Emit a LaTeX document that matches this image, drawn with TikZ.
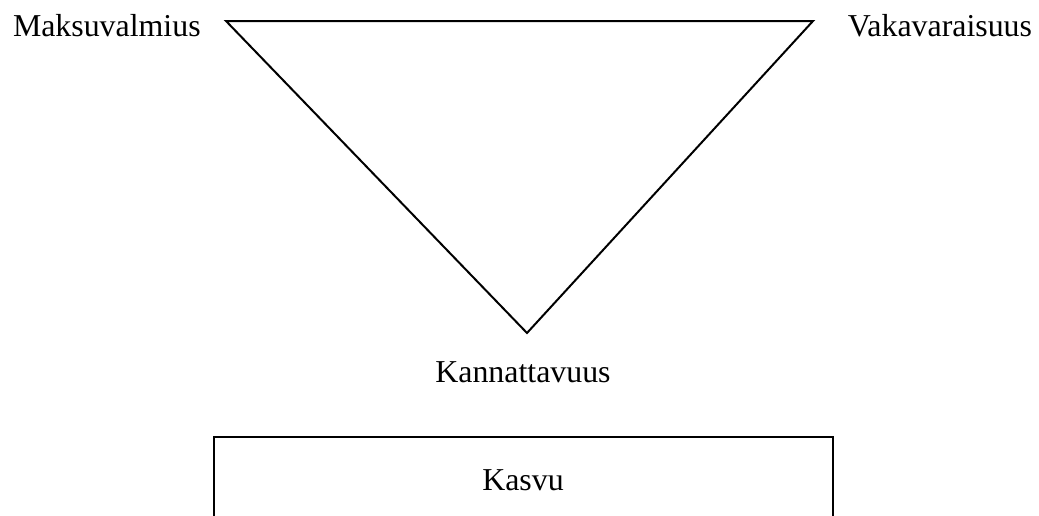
\documentclass[tikz,border=0pt]{standalone}
\usepackage{fontspec}
\setmainfont{Liberation Serif}
\begin{document}
\begin{tikzpicture}[x=0.75pt,y=-0.75pt,
  lbl/.style={inner sep=0pt,outer sep=0pt,font=\fontsize{23.9}{28}\selectfont},
  tri/.style={line width=1.5pt,line join=miter},
  boxline/.style={line width=2.2pt,line join=miter}]
\useasboundingbox (0,0) rectangle (1039,515);
\clip (0,0) rectangle (1039,515);
% labels
\node[lbl,anchor=base west] (maks) at (13,36) {Maksuvalmius};
\node[lbl,anchor=base east] (vaka) at (1032,36) {Vakavaraisuus};
\node[lbl,anchor=base] (kann) at (523,382) {Kannattavuus};
\node[lbl,anchor=base] (kasvu) at (523,490) {Kasvu};
% triangle
\coordinate (tl) at (226,21);
\coordinate (tr) at (813,21);
\coordinate (bt) at (527,333);
\draw[tri] (tl) -- (tr) -- (bt) -- cycle;
% box (open at bottom, runs off the page)
\coordinate (bl) at (214,530);
\coordinate (ul) at (214,437);
\coordinate (ur) at (833,437);
\coordinate (br) at (833,530);
\draw[boxline] (bl) -- (ul) -- (ur) -- (br);
\end{tikzpicture}
\end{document}
